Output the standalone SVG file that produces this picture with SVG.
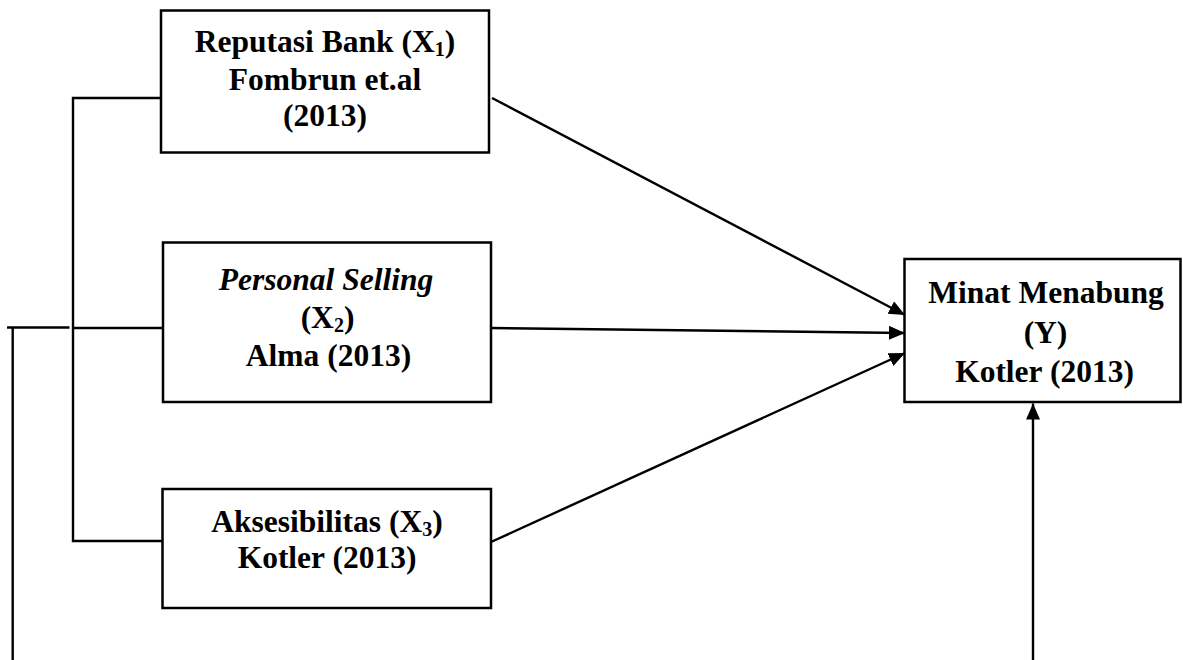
<svg xmlns="http://www.w3.org/2000/svg" width="1183" height="660" viewBox="0 0 1183 660">
<style>
.box{fill:#fff;stroke:#000;stroke-width:2.5}
.ln{fill:none;stroke:#000;stroke-width:2.4}
.t{font-family:"Liberation Serif","Times New Roman",serif;font-weight:bold;font-size:31.5px;fill:#000;text-anchor:middle}
.it{font-style:italic}
.sub{font-size:20px}
</style>
<defs>
<marker id="ah" markerUnits="userSpaceOnUse" markerWidth="18" markerHeight="16" refX="16" refY="7" orient="auto">
<path d="M0,0 L16,7 L0,14 Z" fill="#000"/>
</marker>
</defs>
<rect width="1183" height="660" fill="#fff"/>
<g id="connectors">
<path class="ln" d="M161,98 H73 V541 H162"/>
<path class="ln" d="M73,328 H163"/>
<path class="ln" d="M7,327.5 H69.5"/>
<path class="ln" d="M12.7,327.5 V660"/>
<line class="ln" x1="492" y1="98" x2="905" y2="315" marker-end="url(#ah)"/>
<line class="ln" x1="491" y1="328" x2="905" y2="333" marker-end="url(#ah)"/>
<line class="ln" x1="491" y1="542" x2="905" y2="353" marker-end="url(#ah)"/>
<line class="ln" x1="1033" y1="660" x2="1033" y2="403.5" marker-end="url(#ah)"/>
</g>
<g id="node-x1">
<rect class="box" x="161" y="10.5" width="328" height="142"/>
<text class="t" x="325" y="51.5">Reputasi Bank (X<tspan class="sub" dy="4">1</tspan><tspan dy="-4">)</tspan></text>
<text class="t" x="325" y="90">Fombrun et.al</text>
<text class="t" x="325" y="126">(2013)</text>
</g>
<g id="node-x2">
<rect class="box" x="163" y="242.5" width="328" height="159.5"/>
<text class="t it" x="326" y="290">Personal Selling</text>
<text class="t" x="327.5" y="328">(X<tspan class="sub" dy="4">2</tspan><tspan dy="-4">)</tspan></text>
<text class="t" x="328.5" y="366">Alma (2013)</text>
</g>
<g id="node-x3">
<rect class="box" x="162.5" y="489" width="328.5" height="119"/>
<text class="t" x="327" y="531.5">Aksesibilitas (X<tspan class="sub" dy="4">3</tspan><tspan dy="-4">)</tspan></text>
<text class="t" x="327" y="568">Kotler (2013)</text>
</g>
<g id="node-y">
<rect class="box" x="904.5" y="259" width="276" height="143"/>
<text class="t" x="1046" y="303">Minat Menabung</text>
<text class="t" x="1045.5" y="343">(Y)</text>
<text class="t" x="1044.5" y="381.5">Kotler (2013)</text>
</g>
</svg>
